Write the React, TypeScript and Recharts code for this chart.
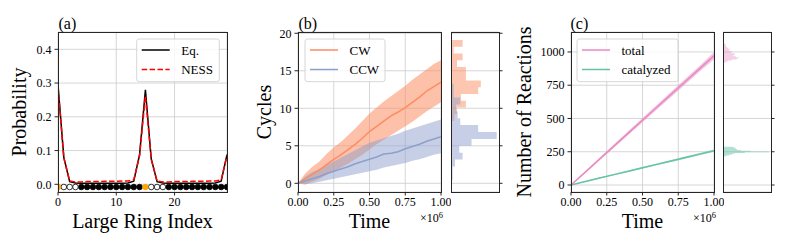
import React from 'react';
import {
  ComposedChart, Line, Area, Scatter, XAxis, YAxis, CartesianGrid,
} from 'recharts';

// ---- (a) ring occupation probability ----
const ringIndex = [0, 1, 2, 3, 4, 5, 6, 7, 8, 9, 10, 11, 12, 13, 14, 15, 16, 17, 18, 19, 20, 21, 22, 23, 24, 25, 26, 27, 28, 29];
const eqProb = [0.295, 0.080, 0.008, 0.004, 0.003, 0.003, 0.003, 0.003, 0.003, 0.003, 0.003, 0.003, 0.004, 0.009, 0.088,
  0.280, 0.075, 0.008, 0.004, 0.003, 0.003, 0.003, 0.003, 0.003, 0.003, 0.003, 0.003, 0.004, 0.009, 0.088];
const nessProb = [0.288, 0.078, 0.010, 0.007, 0.007, 0.008, 0.008, 0.008, 0.009, 0.009, 0.009, 0.010, 0.010, 0.013, 0.085,
  0.262, 0.074, 0.010, 0.007, 0.007, 0.008, 0.008, 0.008, 0.009, 0.009, 0.009, 0.010, 0.010, 0.013, 0.085];
// o = orange site, w = empty site, b = filled site
const siteKind = ['o', 'w', 'w', 'w', 'b', 'b', 'b', 'b', 'b', 'b', 'b', 'b', 'b', 'b', 'b',
  'o', 'w', 'w', 'w', 'b', 'b', 'b', 'b', 'b', 'b', 'b', 'b', 'b', 'b', 'b'];
const siteLevel = -0.008;

// ---- (b) cycles vs time ----
const timeB = [0, 0.05, 0.1, 0.15, 0.2, 0.25, 0.3, 0.35, 0.4, 0.45, 0.5, 0.55, 0.6, 0.65, 0.7, 0.75, 0.8, 0.85, 0.9, 0.95, 1.0];
const cwMean = [0, 0.6, 1.2, 1.8, 2.5, 3.2, 3.8, 4.5, 5.2, 6.0, 6.9, 7.6, 8.3, 9.0, 9.5, 10.1, 10.8, 11.5, 12.3, 12.9, 13.5];
const cwHigh = [0, 1.3, 2.2, 2.9, 3.9, 4.8, 5.5, 6.4, 7.3, 8.3, 9.3, 10.1, 10.9, 11.6, 12.3, 13.0, 13.8, 14.5, 15.2, 15.9, 16.4];
const cwLow = [0, -0.2, 0.2, 0.6, 1.1, 1.6, 2.1, 2.6, 3.2, 3.8, 4.5, 5.2, 5.8, 6.4, 7.0, 7.6, 8.2, 8.9, 9.6, 10.2, 10.8];
const ccwMean = [0, 0.3, 0.6, 0.9, 1.3, 1.6, 1.9, 2.2, 2.6, 2.9, 3.2, 3.5, 3.9, 4.0, 4.2, 4.6, 4.9, 5.2, 5.6, 5.9, 6.2];
const ccwHigh = [0, 0.9, 1.5, 1.9, 2.4, 2.9, 3.4, 3.9, 4.4, 4.9, 5.4, 5.7, 6.0, 6.3, 6.6, 7.0, 7.3, 7.6, 7.9, 8.2, 8.5];
const ccwLow = [0, -0.1, 0.0, 0.2, 0.4, 0.6, 0.8, 1.0, 1.2, 1.4, 1.6, 1.8, 2.1, 2.3, 2.5, 2.7, 3.0, 3.2, 3.5, 3.8, 4.0];

const cwHistEdges = [8.3, 9.2, 10.1, 11.0, 11.9, 12.8, 13.7, 14.6, 15.5, 16.4, 17.3, 18.2, 19.1];
const cwHistCounts = [10, 18, 45, 30, 82, 90, 45, 45, 18, 35, 8, 35];
const ccwHistEdges = [0.4, 1.32, 2.24, 3.16, 4.08, 5.0, 5.92, 6.84, 7.76, 8.68, 9.6, 10.52, 11.44, 12.36, 13.28];
const ccwHistCounts = [5, 5, 12, 35, 25, 62, 138, 82, 28, 20, 15, 28, 8, 8];

// ---- (c) reactions vs time ----
const timeC = [0, 0.1, 0.2, 0.3, 0.4, 0.5, 0.6, 0.7, 0.8, 0.9, 1.0];
const totalMean = [0, 97, 195, 292, 390, 487, 584, 681, 778, 875, 972];
const totalHigh = [0, 104, 205, 304, 404, 503, 601, 700, 799, 897, 998];
const totalLow = [0, 90, 185, 280, 376, 471, 567, 662, 757, 853, 946];
const catMean = [0, 26, 52, 78, 103, 129, 155, 180, 206, 232, 258];
const catHigh = [0, 29, 56, 83, 109, 136, 162, 188, 214, 241, 267];
const catLow = [0, 23, 48, 73, 97, 122, 148, 172, 198, 223, 249];

const totalHistEdges = [920, 928, 936, 944, 952, 960, 968, 976, 984, 992, 1000, 1008, 1016, 1024, 1032, 1040, 1048, 1056, 1064];
const totalHistCounts = [3, 5, 9, 14, 16, 13, 10, 12, 11, 8, 9, 6, 7, 5, 4, 3, 3, 2];
const catHistEdges = [216, 222, 228, 234, 240, 246, 252, 258, 264, 270, 276, 282, 288];
const catHistCounts = [3, 6, 9, 12, 22, 46, 28, 18, 14, 13, 12, 10];

const FONT = '"Liberation Serif", "Times New Roman", serif';
const GRID = '#cccccc';
const SPINE = '#262626';
const CW = '#fc8d62';
const CCW = '#8da0cb';
const TOTAL = '#e78ac3';
const CAT = '#66c2a5';

const tickStyle = { fill: '#000', fontSize: 12 };

const yDomA: [number, number] = [-0.0228, 0.4513];
const yDomB: [number, number] = [-1.16, 20.17];
const yDomC: [number, number] = [-52.6, 1150];

const ringRows = ringIndex.map((idx, i) => ({ idx, eq: eqProb[i], ness: nessProb[i] }));
const siteRows = (kind: string) =>
  ringIndex.filter((_, i) => siteKind[i] === kind).map((idx) => ({ idx, y: siteLevel }));

const rowsB = timeB.map((t, i) => ({
  t, cw: cwMean[i], cwBand: [cwLow[i], cwHigh[i]], ccw: ccwMean[i], ccwBand: [ccwLow[i], ccwHigh[i]],
}));
const rowsC = timeC.map((t, i) => ({
  t, total: totalMean[i], totalBand: [totalLow[i], totalHigh[i]], cat: catMean[i], catBand: [catLow[i], catHigh[i]],
}));

// step outline of a horizontal histogram: one point per lower bin edge, closed at the top edge
const histRows = (edges: number[], counts: number[]) => [
  ...counts.map((c, i) => ({ pos: edges[i], cnt: c })),
  { pos: edges[edges.length - 1], cnt: 0 },
];

const dotShape = (fill: string, stroke: string) => (p: any) => (
  <circle cx={p.cx} cy={p.cy} r={2.8} fill={fill} stroke={stroke} strokeWidth={0.8} />
);

const fmt2 = (v: number) => v.toFixed(2);

const mainAxes = (yDom: [number, number], yTicks: number[]) => [
  <XAxis key="x" type="number" dataKey="t" domain={[0, 1]} ticks={[0, 0.25, 0.5, 0.75, 1]} tickFormatter={fmt2}
    interval={0} height={25} tick={tickStyle} tickSize={3.5} tickMargin={2} stroke={SPINE} axisLine={false} allowDataOverflow />,
  <YAxis key="y" type="number" domain={yDom} ticks={yTicks} interval={0} width={40}
    tick={tickStyle} tickSize={3.5} tickMargin={3} stroke={SPINE} axisLine={false} allowDataOverflow />,
];

// vertical layout puts small values at the top, so the position axis is reversed
const histAxes = (xMax: number, yDom: [number, number], yTicks: number[]) => [
  <XAxis key="x" type="number" domain={[0, xMax]} hide allowDataOverflow />,
  <YAxis key="y" type="number" dataKey="pos" orientation="right" reversed domain={yDom} ticks={yTicks} tickFormatter={() => ''}
    interval={0} width={8} tickSize={3.5} stroke={SPINE} axisLine={false} allowDataOverflow />,
];

// plot boxes [left, top, width, height] used for the spines
const boxes = [
  [58, 32, 169, 160], [298, 32, 143, 160], [451, 32, 48, 160], [571, 32, 143, 160], [723, 32, 48, 160],
];

const LegendBox = ({ x, w, items }: { x: number; w: number; items: { label: string; color: string; dash?: string }[] }) => (
  <g>
    <rect x={x} y={39} width={w} height={42.7} rx={2.5} fill="#fff" fillOpacity={0.8} stroke="#cccccc" strokeWidth={0.8} />
    {items.map((it, i) => {
      const y = 50 + i * 19.5;
      return (
        <g key={it.label}>
          <line x1={x + 5} x2={x + 33} y1={y} y2={y} stroke={it.color} strokeWidth={1.5} strokeDasharray={it.dash} />
          <text x={x + 44.5} y={y + 4.5} fontSize={13} fontFamily={FONT} fill="#000">{it.label}</text>
        </g>
      );
    })}
  </g>
);

export default function App() {
  return (
    <div style={{ position: 'absolute', left: 0, top: 0, width: 789, height: 247, background: '#fff', overflow: 'hidden', fontFamily: FONT }}>
      <style>{`.recharts-cartesian-axis-tick-value, .recharts-text { font-family: ${FONT} !important; }`}</style>
      {/* (a) */}
      <div style={{ position: 'absolute', left: 18, top: 22 }}>
        <ComposedChart width={219} height={195} data={ringRows} margin={{ top: 10, right: 10, bottom: 0, left: 0 }}>
          <CartesianGrid stroke={GRID} strokeWidth={0.8} />
          <XAxis type="number" dataKey="idx" domain={[0, 29]} ticks={[0, 10, 20]} interval={0} height={25}
            tick={tickStyle} tickSize={3.5} tickMargin={2} stroke={SPINE} axisLine={false} allowDataOverflow />
          <YAxis type="number" domain={yDomA} ticks={[0, 0.1, 0.2, 0.3, 0.4]} tickFormatter={(v: number) => v.toFixed(1)}
            interval={0} width={40} tick={tickStyle} tickSize={3.5} tickMargin={3} stroke={SPINE} axisLine={false} allowDataOverflow />
          <Line dataKey="eq" stroke="#000" strokeWidth={1.5} dot={false} isAnimationActive={false} />
          <Line dataKey="ness" stroke="#ff0000" strokeWidth={1.5} strokeDasharray="5.5 2.4" dot={false} isAnimationActive={false} />
          <Scatter data={siteRows('b')} dataKey="y" shape={dotShape('#000', '#000')} isAnimationActive={false} />
          <Scatter data={siteRows('w')} dataKey="y" shape={dotShape('#fff', '#000')} isAnimationActive={false} />
          <Scatter data={siteRows('o')} dataKey="y" shape={dotShape('#ffa500', '#ffa500')} isAnimationActive={false} />
        </ComposedChart>
      </div>

      {/* (b) main */}
      <div style={{ position: 'absolute', left: 258, top: 22 }}>
        <ComposedChart width={193} height={195} data={rowsB} margin={{ top: 10, right: 10, bottom: 0, left: 0 }}>
          <CartesianGrid stroke={GRID} strokeWidth={0.8} />
          {mainAxes(yDomB, [0, 5, 10, 15, 20])}
          <Area dataKey="cwBand" stroke="none" fill={CW} fillOpacity={0.55} isAnimationActive={false} />
          <Line dataKey="cw" stroke={CW} strokeWidth={1.5} dot={false} isAnimationActive={false} />
          <Area dataKey="ccwBand" stroke="none" fill={CCW} fillOpacity={0.5} isAnimationActive={false} />
          <Line dataKey="ccw" stroke={CCW} strokeWidth={1.5} dot={false} isAnimationActive={false} />
        </ComposedChart>
      </div>
      {/* (b) histogram */}
      <div style={{ position: 'absolute', left: 451, top: 22 }}>
        <ComposedChart layout="vertical" width={58} height={195} margin={{ top: 10, right: 2, bottom: 25, left: 0 }}>
          <CartesianGrid stroke={GRID} strokeWidth={0.8} vertical={false} />
          {histAxes(145, yDomB, [0, 5, 10, 15, 20])}
          <Area data={histRows(cwHistEdges, cwHistCounts)} dataKey="cnt" type="stepBefore" stroke="none"
            fill={CW} fillOpacity={0.5} isAnimationActive={false} />
          <Area data={histRows(ccwHistEdges, ccwHistCounts)} dataKey="cnt" type="stepBefore" stroke="none"
            fill={CCW} fillOpacity={0.5} isAnimationActive={false} />
        </ComposedChart>
      </div>

      {/* (c) main */}
      <div style={{ position: 'absolute', left: 531, top: 22 }}>
        <ComposedChart width={193} height={195} data={rowsC} margin={{ top: 10, right: 10, bottom: 0, left: 0 }}>
          <CartesianGrid stroke={GRID} strokeWidth={0.8} />
          {mainAxes(yDomC, [0, 250, 500, 750, 1000])}
          <Area dataKey="totalBand" stroke="none" fill={TOTAL} fillOpacity={0.5} isAnimationActive={false} />
          <Line dataKey="total" stroke={TOTAL} strokeWidth={1.5} dot={false} isAnimationActive={false} />
          <Area dataKey="catBand" stroke="none" fill={CAT} fillOpacity={0.5} isAnimationActive={false} />
          <Line dataKey="cat" stroke={CAT} strokeWidth={1.5} dot={false} isAnimationActive={false} />
        </ComposedChart>
      </div>
      {/* (c) histogram */}
      <div style={{ position: 'absolute', left: 723, top: 22 }}>
        <ComposedChart layout="vertical" width={58} height={195} margin={{ top: 10, right: 2, bottom: 25, left: 0 }}>
          <CartesianGrid stroke={GRID} strokeWidth={0.8} vertical={false} />
          {histAxes(48.4, yDomC, [0, 250, 500, 750, 1000])}
          <Area data={histRows(totalHistEdges, totalHistCounts)} dataKey="cnt" type="stepBefore" stroke="none"
            fill={TOTAL} fillOpacity={0.4} isAnimationActive={false} />
          <Area data={histRows(catHistEdges, catHistCounts)} dataKey="cnt" type="stepBefore" stroke="none"
            fill={CAT} fillOpacity={0.5} isAnimationActive={false} />
        </ComposedChart>
      </div>

      {/* spines */}
      {boxes.map(([l, t, w, h], i) => (
        <div key={i} style={{ position: 'absolute', left: l - 0.5, top: t - 0.5, width: w + 1, height: h + 1,
          boxSizing: 'border-box', border: `1px solid ${SPINE}`, pointerEvents: 'none' }} />
      ))}

      {/* text overlay */}
      <svg width={789} height={247} style={{ position: 'absolute', left: 0, top: 0, pointerEvents: 'none' }}>
        <g fontFamily={FONT} fill="#000">
          <text x={58.5} y={28.5} fontSize={16}>(a)</text>
          <text x={298.5} y={28.5} fontSize={16}>(b)</text>
          <text x={570.5} y={28.5} fontSize={16}>(c)</text>
          <text x={142.5} y={227.5} fontSize={20} textAnchor="middle">Large Ring Index</text>
          <text x={369.5} y={228} fontSize={20} textAnchor="middle">Time</text>
          <text x={642.5} y={228} fontSize={20} textAnchor="middle">Time</text>
          <text transform="translate(26,112) rotate(-90)" fontSize={20} textAnchor="middle">Probability</text>
          <text transform="translate(271,112) rotate(-90)" fontSize={20} textAnchor="middle">Cycles</text>
          <text transform="translate(531,112) rotate(-90)" fontSize={20} textAnchor="middle">Number of Reactions</text>
          <text x={443} y={222} fontSize={12} textAnchor="end">×10<tspan dy={-4} fontSize={8.5}>6</tspan></text>
          <text x={716} y={222} fontSize={12} textAnchor="end">×10<tspan dy={-4} fontSize={8.5}>6</tspan></text>
        </g>
        <LegendBox x={136.7} w={82.6} items={[{ label: 'Eq.', color: '#000' }, { label: 'NESS', color: '#ff0000', dash: '5.5 2.4' }]} />
        <LegendBox x={305} w={80} items={[{ label: 'CW', color: CW }, { label: 'CCW', color: CCW }]} />
        <LegendBox x={577} w={101} items={[{ label: 'total', color: TOTAL }, { label: 'catalyzed', color: CAT }]} />
      </svg>
    </div>
  );
}
